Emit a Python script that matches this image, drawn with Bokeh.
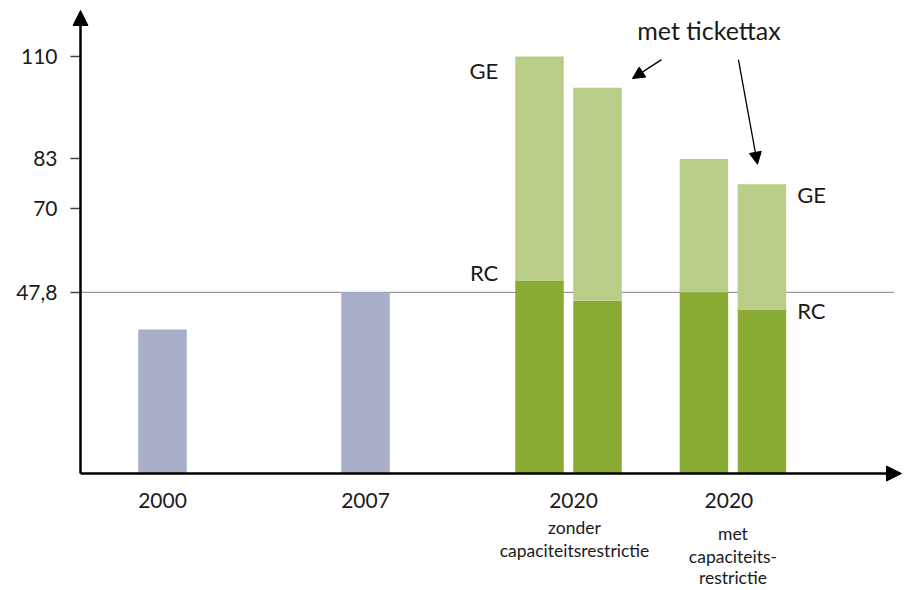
from bokeh.plotting import figure
from bokeh.models import Range1d, FixedTicker, Arrow, NormalHead
from bokeh.core.properties import value
from bokeh.embed import file_html
from bokeh.resources import INLINE

# ---- data ----
years = ["2000", "2007", "2020", "2020"]
sub_labels = [["zonder", "capaciteitsrestrictie"], ["met", "capaciteits-", "restrictie"]]
group_pos = [0.0, 1.0, 2.0, 2.81]
single_values = [38.0, 47.8]                 # 2000, 2007
rc_values = [50.9, 45.6, 47.8, 43.3]         # RC part of the 2020 bars
ge_values = [110.0, 101.8, 83.0, 76.3]       # GE total of the 2020 bars
reference_value = 47.8
y_ticks = [47.8, 70, 83, 110]
annotation = "met tickettax"

# ---- layout constants ----
FONT = "Lato"
TXT = "#1a1a1a"
GREY = "#a9aec8"
DARK = "#8aab33"
LIGHT = "#b9cd86"
W, H, LEFT = 904, 590, 70
UX = 203.0            # pixels per x unit
PX = 3.79             # pixels per y unit
X0 = (LEFT - 162) / UX
AX = (80 - 162) / UX  # position of the drawn y axis
X1 = X0 + (W - LEFT) / UX
Y1 = 473 / PX
Y0 = Y1 - H / PX
BAR_W = 48.5 / UX
OFF = 29 / UX
label_shift = [0, 0, 5 / UX, -4 / UX]

p = figure(width=W, height=H, x_range=Range1d(X0, X1), y_range=Range1d(Y0, Y1),
           x_axis_type=None, output_backend="svg", toolbar_location=None,
           min_border=0, min_border_left=LEFT)
p.grid.visible = False
p.outline_line_color = None
p.background_fill_color = "white"

ax = p.yaxis[0]
ax.ticker = FixedTicker(ticks=y_ticks)
ax.major_label_overrides = {t: (str(t).replace(".", ",") if isinstance(t, float) else str(t)) for t in y_ticks}
ax.axis_line_color = None
ax.major_tick_out = 0
ax.major_tick_in = 10
ax.minor_tick_out = 0
ax.minor_tick_in = 0
ax.major_tick_line_color = "#444444"
ax.major_tick_line_width = 1.5
ax.major_label_standoff = 13
ax.major_label_text_font = FONT
ax.major_label_text_font_size = "21px"
ax.major_label_text_color = TXT

# reference dotted line
p.segment(x0=[AX], y0=[reference_value], x1=[X1 - 11 / UX], y1=[reference_value],
          line_color="#000000", line_width=1, line_dash="1 1")

# bars
p.vbar(x=group_pos[:2], bottom=0, top=single_values, width=BAR_W, color=GREY, line_color=None)
green_x = [group_pos[2] - OFF, group_pos[2] + OFF, group_pos[3] - OFF, group_pos[3] + OFF]
p.vbar(x=green_x, bottom=0, top=rc_values, width=BAR_W, color=DARK, line_color=None)
p.vbar(x=green_x, bottom=rc_values, top=ge_values, width=BAR_W, color=LIGHT, line_color=None)

# axes arrows
p.add_layout(Arrow(x_start=AX, y_start=0, x_end=AX, y_end=Y1 - 10 / PX, line_width=2.5,
                   line_color="black",
                   end=NormalHead(size=15, fill_color="black", line_color="black")))
p.add_layout(Arrow(x_start=AX, y_start=0, x_end=X1 - 3 / UX, y_end=0, line_width=2.5,
                   line_color="black",
                   end=NormalHead(size=15, fill_color="black", line_color="black")))

# x labels
lab_x = [g + s for g, s in zip(group_pos, label_shift)]
p.text(x=lab_x, y=[-27 / PX] * 4, text=years, text_align="center", text_baseline="middle",
       text_font=value(FONT), text_font_size="21px", text_color=TXT)
sub_offsets = [[54, 77], [60, 83, 104]]
for gp, lines, offs in zip([group_pos[2] + 6 / UX, group_pos[3]], sub_labels, sub_offsets):
    p.text(x=[gp] * len(lines), y=[-o / PX for o in offs], text=lines, text_align="center",
           text_baseline="middle", text_font=value(FONT), text_font_size="17.5px", text_color=TXT)

# GE / RC labels
lx = green_x[0] - BAR_W / 2 - 17 / UX
rx = green_x[3] + BAR_W / 2 + 11 / UX
p.text(x=[lx, lx], y=[ge_values[0] - 3.7, rc_values[0] + 2.1], text=["GE", "RC"],
       text_align="right", text_baseline="middle", text_font=value(FONT),
       text_font_size="22px", text_color=TXT)
p.text(x=[rx, rx], y=[ge_values[3] - 2.7, rc_values[3] - 0.2], text=["GE", "RC"],
       text_align="left", text_baseline="middle", text_font=value(FONT),
       text_font_size="22px", text_color=TXT)

# annotation
p.text(x=[2.692], y=[117.0], text=[annotation], text_align="center", text_baseline="middle",
       text_font=value(FONT), text_font_size="25px", text_color=TXT)
p.add_layout(Arrow(x_start=2.458, y_start=109.2, x_end=2.315, y_end=104.2, line_width=1.3,
                   line_color="black",
                   end=NormalHead(size=12, fill_color="black", line_color="black")))
p.add_layout(Arrow(x_start=2.837, y_start=109.2, x_end=2.931, y_end=81.6, line_width=1.3,
                   line_color="black",
                   end=NormalHead(size=12, fill_color="black", line_color="black")))

open("out.html", "w").write(file_html(p, INLINE))
